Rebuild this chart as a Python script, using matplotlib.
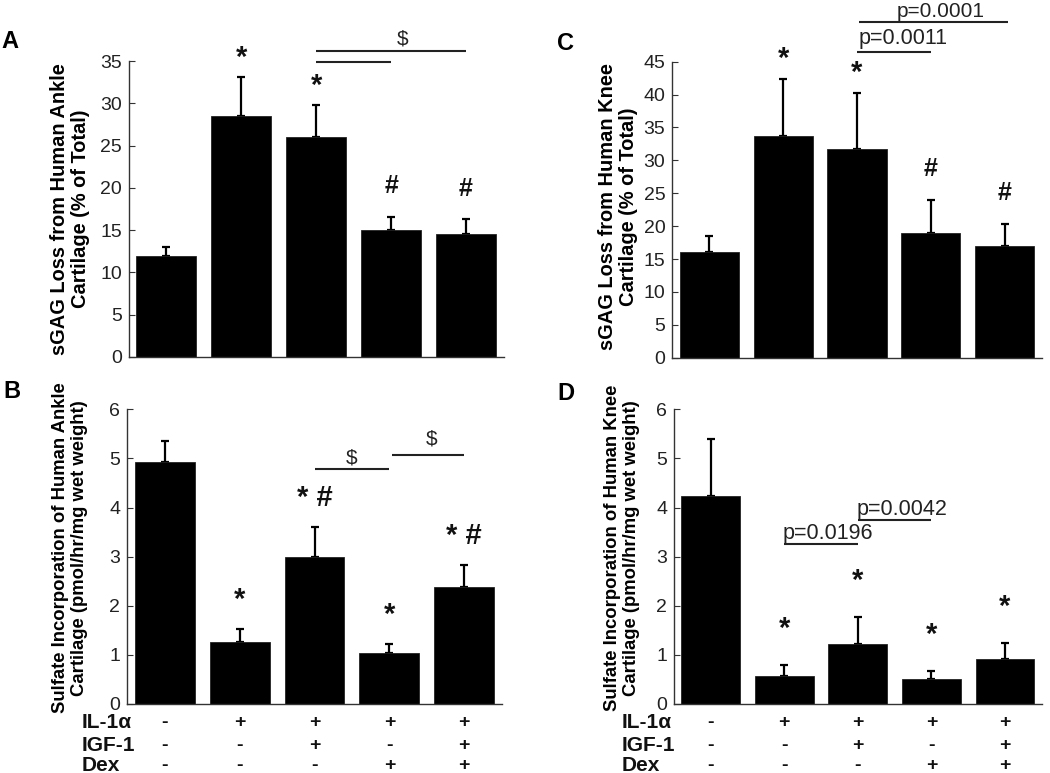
import matplotlib
matplotlib.use("Agg")
import matplotlib.pyplot as plt
import matplotlib.transforms as mtransforms

plt.rcParams["font.family"] = ["Liberation Sans", "DejaVu Sans"]

# data
groups = [1, 2, 3, 4, 5]
il1 = ["-", "+", "+", "+", "+"]
igf1 = ["-", "-", "+", "-", "+"]
dex = ["-", "-", "-", "+", "+"]

ankle_gag = [12.0, 28.5, 26.0, 15.05, 14.55]
ankle_gag_err = [1.05, 4.6, 3.8, 1.55, 1.75]
ankle_gag_marks = ["", "*", "*", "#", "#"]

knee_gag = [16.0, 33.7, 31.7, 18.9, 17.0]
knee_gag_err = [2.55, 8.6, 8.5, 5.1, 3.4]
knee_gag_marks = ["", "*", "*", "#", "#"]

ankle_sulf = [4.92, 1.27, 2.99, 1.03, 2.39]
ankle_sulf_err = [0.43, 0.26, 0.61, 0.19, 0.43]
ankle_sulf_marks = ["", "*", "* #", "*", "* #"]

knee_sulf = [4.24, 0.58, 1.23, 0.51, 0.92]
knee_sulf_err = [1.16, 0.21, 0.54, 0.16, 0.32]
knee_sulf_marks = ["", "*", "*", "*", "*"]

W, H = 1050, 773
fig = plt.figure(figsize=(W / 100, H / 100), dpi=100)


def make_ax(left, right, top, bottom):
    return fig.add_axes([left / W, 1 - bottom / H, (right - left) / W, (bottom - top) / H])


def draw(ax, vals, errs, ymax, step, ylabel, lab_x, lab_y, lab_size):
    ax.bar(groups, vals, width=0.8, color="black", edgecolor="#222222", linewidth=0.6, zorder=2)
    ax.errorbar(groups, vals, yerr=[[0] * len(errs), errs], fmt="none", ecolor="black",
                elinewidth=1.6, capsize=3, capthick=1.6, zorder=1)
    ax.set_xlim(0.5, 5.5)
    ax.set_ylim(0, ymax)
    ax.set_yticks(range(0, ymax + 1, step))
    ax.set_xticks([])
    for s in ["top", "right"]:
        ax.spines[s].set_visible(False)
    for s in ["left", "bottom"]:
        ax.spines[s].set_color("#333333")
        ax.spines[s].set_linewidth(1.0)
    ax.tick_params(axis="y", direction="in", length=4, pad=5, labelsize=14,
                   labelcolor="#222222", color="#333333")
    ax.set_ylabel(ylabel, fontsize=lab_size, fontweight="bold", linespacing=1.15)
    ax.yaxis.set_label_coords(lab_x, lab_y)


def marks(ax, vals, errs, labels, off, size):
    for x, v, e, lab in zip(groups, vals, errs, labels):
        if lab:
            ax.annotate(lab, (x, v + e), xytext=(0, off), textcoords="offset points",
                        ha="center", va="center", fontsize=size, fontweight="bold",
                        color="#111111", annotation_clip=False)


def sig(ax, x0, x1, y):
    ax.plot([x0, x1], [y, y], color="#222222", lw=1.5, clip_on=False, solid_capstyle="butt")


def table(ax, lab_x):
    trans = mtransforms.blended_transform_factory(ax.transData, ax.transAxes)
    for row, (name, signs) in enumerate([("IL-1\u03b1", il1), ("IGF-1", igf1), ("Dex", dex)]):
        y = [-0.062, -0.140, -0.208][row]
        ax.text(lab_x, y, name, transform=ax.transAxes, ha="left", va="center",
                fontsize=15, fontweight="bold", color="#111111")
        for x, s in zip(groups, signs):
            ax.text(x, y, s, transform=trans, ha="center", va="center",
                    fontsize=14, fontweight="bold", color="#111111")


# A
axA = make_ax(129, 503.5, 61, 357)
draw(axA, ankle_gag, ankle_gag_err, 35, 5,
     "sGAG Loss from Human Ankle\nCartilage (% of Total)", -0.104, 0.5, 14.4)
marks(axA, ankle_gag, ankle_gag_err, ["", "*", "*", "", ""], 14, 21)
marks(axA, ankle_gag, ankle_gag_err, ["", "", "", "#", "#"], 22, 18)
sig(axA, 3, 4, 34.9)
sig(axA, 3, 5, 36.2)
axA.text(4.15, 37.6, "$", ha="center", va="center", fontsize=15, color="#222222")

# C
axC = make_ax(672.3, 1041.7, 61.7, 357.7)
draw(axC, knee_gag, knee_gag_err, 45, 5,
     "sGAG Loss from Human Knee\nCartilage (% of Total)", -0.093, 0.51, 14.4)
marks(axC, knee_gag, knee_gag_err, ["", "*", "*", "", ""], 15, 21)
marks(axC, knee_gag, knee_gag_err, ["", "", "", "#", "#"], 22, 18)
sig(axC, 3, 4, 46.4)
axC.text(3.02, 48.5, "p=0.0011", ha="left", va="center", fontsize=15.5, color="#222222")
sig(axC, 3.03, 5.05, 51.1)
axC.text(4.13, 52.7, "p=0.0001", ha="center", va="center", fontsize=15, color="#222222")

# B
axB = make_ax(127.3, 501.7, 409.3, 704)
draw(axB, ankle_sulf, ankle_sulf_err, 6, 1,
     "Sulfate Incorporation of Human Ankle\nCartilage (pmol/hr/mg wet weight)", -0.105, 0.53, 13.3)
marks(axB, ankle_sulf, ankle_sulf_err, ankle_sulf_marks, 21, 21)
sig(axB, 3, 4, 4.78)
axB.text(3.5, 5.0, "$", ha="center", va="center", fontsize=15, color="#222222")
sig(axB, 4.03, 5, 5.07)
axB.text(4.57, 5.39, "$", ha="center", va="center", fontsize=15, color="#222222")
table(axB, -0.121)

# D
axD = make_ax(674, 1041.7, 409.3, 704)
draw(axD, knee_sulf, knee_sulf_err, 6, 1,
     "Sulfate Incorporation of Human Knee\nCartilage (pmol/hr/mg wet weight)", -0.0925, 0.53, 13.3)
marks(axD, knee_sulf, knee_sulf_err, knee_sulf_marks, 26, 21)
sig(axD, 2, 3, 3.25)
axD.text(1.97, 3.47, "p=0.0196", ha="left", va="center", fontsize=15.5, color="#222222")
sig(axD, 3, 4, 3.75)
axD.text(2.98, 3.96, "p=0.0042", ha="left", va="center", fontsize=15.5, color="#222222")
table(axD, -0.142)

for lab, x, y in [("A", 10, 42), ("C", 566, 43), ("B", 12, 392), ("D", 566, 394)]:
    fig.text(x / W, 1 - y / H, lab, ha="center", va="center", fontsize=17, fontweight="bold")

fig.savefig("out.png", dpi=100)
